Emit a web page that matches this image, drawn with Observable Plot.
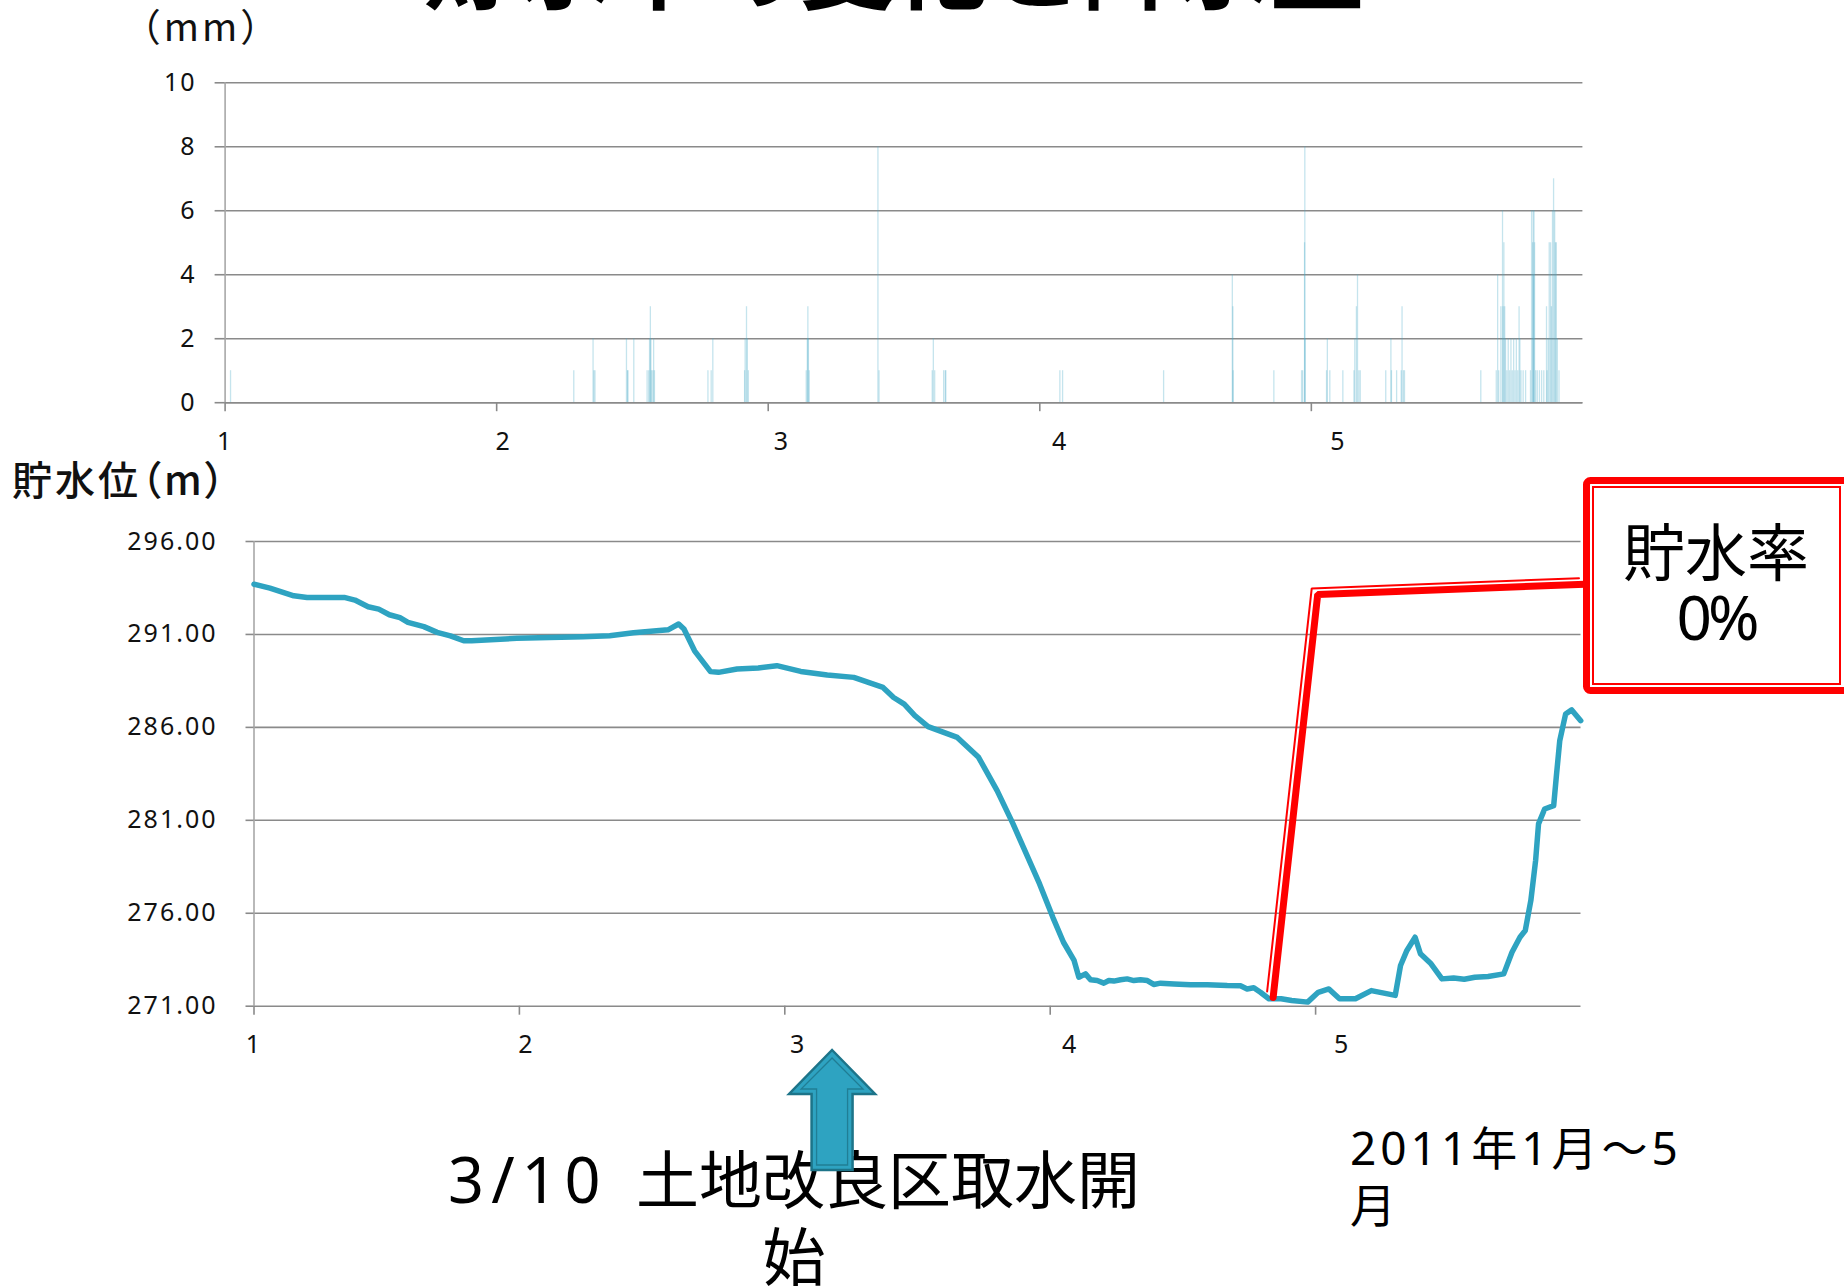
<!DOCTYPE html>
<html><head><meta charset="utf-8">
<script src="https://cdn.jsdelivr.net/npm/d3@7"></script>
<script src="https://cdn.jsdelivr.net/npm/@observablehq/plot@0.6"></script>
<style>
html,body{margin:0;padding:0;background:#fff;}
#root{position:relative;width:1844px;height:1286px;overflow:hidden;background:#fff;}
#root svg{position:absolute;left:0;}
</style></head>
<body><div id="root"></div>
<script>
// ---------- data ----------
const titleText = "貯水率の変化と降水量";
const months = [1, 2, 3, 4, 5];
const monthLabels = ["1", "2", "3", "4", "5"];
const monthLabelPos = [1, 2.026, 3.05, 4.075, 5.1];
const rainTicks = [0, 2, 4, 6, 8, 10];
const levelTicks = [271, 276, 281, 286, 291, 296];

// rainfall (mm), position in months (1 = Jan 1)
const rainT = [1.020, 2.284, 2.355, 2.358, 2.362, 2.478, 2.482, 2.483, 2.505, 2.554, 2.560, 2.563, 2.566, 2.568,
  2.570, 2.575, 2.578, 2.581, 2.778, 2.790, 2.796, 2.913, 2.915, 2.920, 2.923, 2.927, 3.140, 3.144, 3.146,
  3.148, 3.151, 3.404, 3.408, 3.604, 3.608, 3.613, 3.646, 3.652, 3.654, 4.074, 4.084, 4.456, 4.709, 4.711,
  4.712, 4.862, 4.964, 4.968, 4.975, 4.976, 4.977, 5.056, 5.059, 5.068, 5.116, 5.157, 5.160, 5.166, 5.170,
  5.175, 5.180, 5.274, 5.293, 5.295, 5.314, 5.331, 5.334, 5.339, 5.343, 5.624, 5.681, 5.686, 5.690, 5.698,
  5.704, 5.706, 5.709, 5.712, 5.715, 5.720, 5.725, 5.730, 5.735, 5.740, 5.745, 5.750, 5.755, 5.760, 5.765,
  5.768, 5.772, 5.780, 5.789, 5.807, 5.811, 5.815, 5.817, 5.818, 5.820, 5.822, 5.826, 5.832, 5.840, 5.848,
  5.856, 5.866, 5.868, 5.872, 5.876, 5.881, 5.884, 5.888, 5.892, 5.896, 5.899, 5.902, 5.906, 5.912];
const rainMM = [1, 1, 2, 1, 1, 2, 1, 1, 2, 1, 1, 2, 3, 2,
  1, 1, 2, 1, 1, 1, 2, 1, 2, 3, 2, 1, 1, 2, 3,
  2, 1, 8, 1, 1, 2, 1, 1, 1, 1, 1, 1, 1, 4, 3,
  1, 1, 1, 1, 5, 8, 2, 1, 2, 1, 1, 1, 2, 3, 4,
  1, 1, 1, 2, 1, 1, 1, 3, 1, 1, 1, 1, 4, 1, 3,
  6, 3, 5, 3, 2, 1, 2, 1, 2, 1, 2, 1, 2, 1, 3,
  2, 1, 1, 1, 1, 6, 5, 6, 4, 6, 5, 1, 1, 1, 1,
  1, 3, 1, 2, 5, 5, 3, 6, 7, 6, 5, 5, 2, 1];

// reservoir water level (m)
const levelT = [1.00, 1.06, 1.15, 1.20, 1.34, 1.38, 1.43, 1.47, 1.51, 1.55, 1.58, 1.64, 1.69, 1.74, 1.79, 1.82,
  1.99, 2.24, 2.34, 2.43, 2.56, 2.60, 2.62, 2.66, 2.72, 2.75, 2.82, 2.90, 2.97, 3.06, 3.16, 3.26, 3.37, 3.41,
  3.45, 3.49, 3.54, 3.65, 3.73, 3.80, 3.86, 3.91, 3.96, 4.01, 4.05, 4.09, 4.108, 4.133, 4.152, 4.177, 4.202,
  4.221, 4.240, 4.265, 4.290, 4.315, 4.340, 4.366, 4.390, 4.416, 4.466, 4.529, 4.592, 4.667, 4.717, 4.742,
  4.767, 4.792, 4.824, 4.87, 4.91, 4.97, 5.01, 5.05, 5.09, 5.15, 5.21, 5.30, 5.32, 5.344, 5.375, 5.395,
  5.435, 5.476, 5.52, 5.56, 5.60, 5.65, 5.709, 5.740, 5.770, 5.790, 5.811, 5.829, 5.840, 5.863, 5.897,
  5.908, 5.920, 5.942, 5.965, 5.999];
const levelV = [293.70, 293.49, 293.08, 292.99, 292.99, 292.85, 292.49, 292.36, 292.06, 291.90, 291.65, 291.42,
  291.11, 290.92, 290.66, 290.66, 290.79, 290.88, 290.93, 291.09, 291.25, 291.56, 291.29, 290.12, 289.00,
  288.96, 289.14, 289.19, 289.32, 289.01, 288.82, 288.69, 288.15, 287.61, 287.25, 286.63, 286.04, 285.46,
  284.39, 282.60, 280.81, 279.19, 277.58, 275.78, 274.44, 273.46, 272.56, 272.74, 272.42, 272.38, 272.24,
  272.38, 272.35, 272.42, 272.47, 272.38, 272.42, 272.38, 272.17, 272.24, 272.20, 272.15, 272.15, 272.11,
  272.10, 271.93, 271.99, 271.75, 271.40, 271.40, 271.31, 271.22, 271.75, 271.93, 271.40, 271.40, 271.84,
  271.58, 273.19, 274.00, 274.71, 273.82, 273.28, 272.47, 272.52, 272.45, 272.56, 272.60, 272.74, 273.90,
  274.71, 275.07, 276.68, 278.84, 280.81, 281.61, 281.79, 283.50, 285.29, 286.72, 286.94, 286.36];

// annotations
const calloutLines = ["貯水率", "0%"];
const pointerT = [4.84, 5.008, 6.015];
const pointerV = [271.47, 293.15, 293.70];
const intakeT = 3.18;
const intakeLine1a = "3/10";
const intakeLine1b = "  土地改良区取水開";
const intakeLine2 = "始";
const periodLine1 = "2011年1月～5";
const periodLine2 = "月";
const rainUnit = "（mm）";
const levelUnit = "貯水位（m）";

// ---------- styles ----------
const FONT = '"Noto Sans", "Noto Sans CJK JP", sans-serif';
const CJK = '"Noto Sans CJK JP", "Noto Sans", sans-serif';
const GRID = "#8a8a8a";
const AXIS = "#a8a8a8";
const LINE = "#2ea3c1";
const RAIN = "#4bacc6";
const RED = "#ff0000";

const rain = rainT.map((t, i) => ({t, mm: rainMM[i]}));
const level = levelT.map((t, i) => ({t, v: levelV[i]}));
const pointer = pointerT.map((t, i) => ({t, v: pointerV[i]}));
const labels = monthLabelPos.map((p, i) => ({p, s: monthLabels[i]}));

const root = document.getElementById("root");
const chartStyle = {fontFamily: FONT, fontSize: "25px", letterSpacing: "2px", color: "#111",
  background: "transparent", overflow: "visible"};

const topChart = Plot.plot({
  width: 1844, height: 460,
  marginLeft: 224.6, marginRight: 261.6, marginTop: 82.3, marginBottom: 57.8,
  x: {domain: [1, 6], label: null},
  y: {domain: [0, 10], label: null},
  style: chartStyle,
  marks: [
    Plot.gridY(rainTicks, {stroke: GRID, strokeOpacity: 1, strokeWidth: 1.6}),
    Plot.ruleX(rain, {x: "t", y1: 0, y2: "mm", stroke: RAIN, strokeOpacity: 0.32, strokeWidth: 1.3}),
    Plot.ruleX([1], {stroke: AXIS, strokeWidth: 1.6}),
    Plot.ruleY([0], {stroke: GRID, strokeWidth: 1.6}),
    Plot.axisY(rainTicks, {tickSize: 10, tickPadding: 18.5, tickFormat: d => String(d), label: null,
      stroke: GRID, strokeWidth: 1.6, fill: "#111"}),
    Plot.axisX(months, {tickSize: 9, tickFormat: () => "", label: null, stroke: GRID, strokeWidth: 1.6}),
    Plot.text(labels, {x: "p", text: "s", frameAnchor: "bottom", dy: 39, lineAnchor: "middle", fill: "#111"})
  ]
});
topChart.style.top = "0px";
root.appendChild(topChart);

const botChart = Plot.plot({
  width: 1844, height: 826,
  marginLeft: 253.5, marginRight: 263.5, marginTop: 81, marginBottom: 280.3,
  x: {domain: [1, 6], label: null},
  y: {domain: [271, 296], label: null},
  style: chartStyle,
  marks: [
    Plot.gridY(levelTicks, {stroke: GRID, strokeOpacity: 1, strokeWidth: 1.6}),
    Plot.ruleX([1], {stroke: AXIS, strokeWidth: 1.6}),
    Plot.axisY(levelTicks, {tickSize: 8, tickPadding: 28.5, tickFormat: d3.format(".2f"), label: null,
      stroke: GRID, strokeWidth: 1.6, fill: "#111"}),
    Plot.axisX(months, {tickSize: 9, tickFormat: () => "", label: null, stroke: GRID, strokeWidth: 1.6}),
    Plot.text(labels, {x: "p", text: "s", frameAnchor: "bottom", dy: 38.5, lineAnchor: "middle", fill: "#111"}),
    Plot.line(level, {x: "t", y: "v", stroke: LINE, strokeWidth: 5.5, strokeLinejoin: "round"}),
    Plot.line(pointer, {x: "t", y: "v", stroke: RED, strokeWidth: 7, strokeLinejoin: "miter"}),
    Plot.line(pointer, {x: "t", y: "v", stroke: RED, strokeWidth: 2, dx: -6, dy: -6, strokeLinejoin: "miter"})
  ]
});
const BOT_TOP = 460;
botChart.style.top = BOT_TOP + "px";
root.appendChild(botChart);

// ---------- overlay: titles, callout, arrow, captions ----------
const ov = d3.select(root).append("svg")
  .attr("width", 1844).attr("height", 1286)
  .style("top", "0px").style("overflow", "hidden");

// cut-off title
ov.append("text").attr("x", 894).attr("y", 2).attr("text-anchor", "middle")
  .attr("font-family", CJK).attr("font-size", 94).attr("font-weight", 700).attr("fill", "#000")
  .text(titleText);

ov.append("text").attr("x", 202).attr("y", 41).attr("text-anchor", "middle")
  .attr("font-family", CJK).attr("font-size", 38).attr("letter-spacing", 3).attr("fill", "#111").text(rainUnit);

ov.append("text").attr("x", 12).attr("y", 495)
  .attr("font-family", CJK).attr("font-size", 40).attr("font-weight", 500).attr("letter-spacing", 3).attr("fill", "#111")
  .style("font-feature-settings", '"palt"').text(levelUnit);

// callout box
const box = ov.append("g");
box.append("rect").attr("x", 1586.5).attr("y", 480.5).attr("width", 300).attr("height", 210)
  .attr("rx", 4).attr("fill", "#fff").attr("stroke", RED).attr("stroke-width", 7);
box.append("rect").attr("x", 1593).attr("y", 487).attr("width", 247).attr("height", 197)
  .attr("fill", "none").attr("stroke", RED).attr("stroke-width", 2);
box.append("text").attr("x", 1716).attr("y", 576).attr("text-anchor", "middle")
  .attr("font-family", CJK).attr("font-size", 62).attr("fill", "#000").text(calloutLines[0]);
box.append("text").attr("x", 1716).attr("y", 640).attr("text-anchor", "middle")
  .attr("font-family", FONT).attr("font-size", 62).attr("letter-spacing", -4).attr("fill", "#000").text(calloutLines[1]);

// captions
const cap = ov.append("text").attr("x", 794).attr("y", 1203).attr("text-anchor", "middle")
  .attr("font-family", CJK).attr("font-size", 63).attr("fill", "#000").attr("xml:space", "preserve")
  .style("white-space", "pre");
cap.append("tspan").attr("font-family", FONT).attr("letter-spacing", 7).text(intakeLine1a);
cap.append("tspan").text(intakeLine1b);
ov.append("text").attr("x", 794).attr("y", 1280).attr("text-anchor", "middle")
  .attr("font-family", CJK).attr("font-size", 63).attr("fill", "#000").text(intakeLine2);

ov.append("text").attr("x", 1350).attr("y", 1165)
  .attr("font-family", FONT).attr("font-size", 46).attr("letter-spacing", 4).attr("fill", "#000").text(periodLine1);
ov.append("text").attr("x", 1350).attr("y", 1222)
  .attr("font-family", CJK).attr("font-size", 46).attr("fill", "#000").text(periodLine2);

// up arrow at 3/10
const ax = botChart.scale("x").apply(intakeT);
const tipY = 1050, headY = 1094, endY = 1170, hw = 43, sw = 20.5;
const outer = [[0, tipY], [hw, headY], [sw, headY], [sw, endY], [-sw, endY], [-sw, headY], [-hw, headY]];
const inner = [[0, tipY + 8], [hw - 12, headY - 5], [sw - 5, headY - 5], [sw - 5, endY - 5],
  [-sw + 5, endY - 5], [-sw + 5, headY - 5], [-hw + 12, headY - 5]];
const poly = pts => pts.map(([dx, y]) => [ax + dx, y].join(",")).join(" ");
ov.append("polygon").attr("points", poly(outer)).attr("fill", LINE)
  .attr("stroke", "#1d7489").attr("stroke-width", 2.5).attr("stroke-linejoin", "miter");
ov.append("polygon").attr("points", poly(inner)).attr("fill", "none")
  .attr("stroke", "#1d7489").attr("stroke-width", 1.3).attr("stroke-opacity", 0.8);
</script>
</body></html>
